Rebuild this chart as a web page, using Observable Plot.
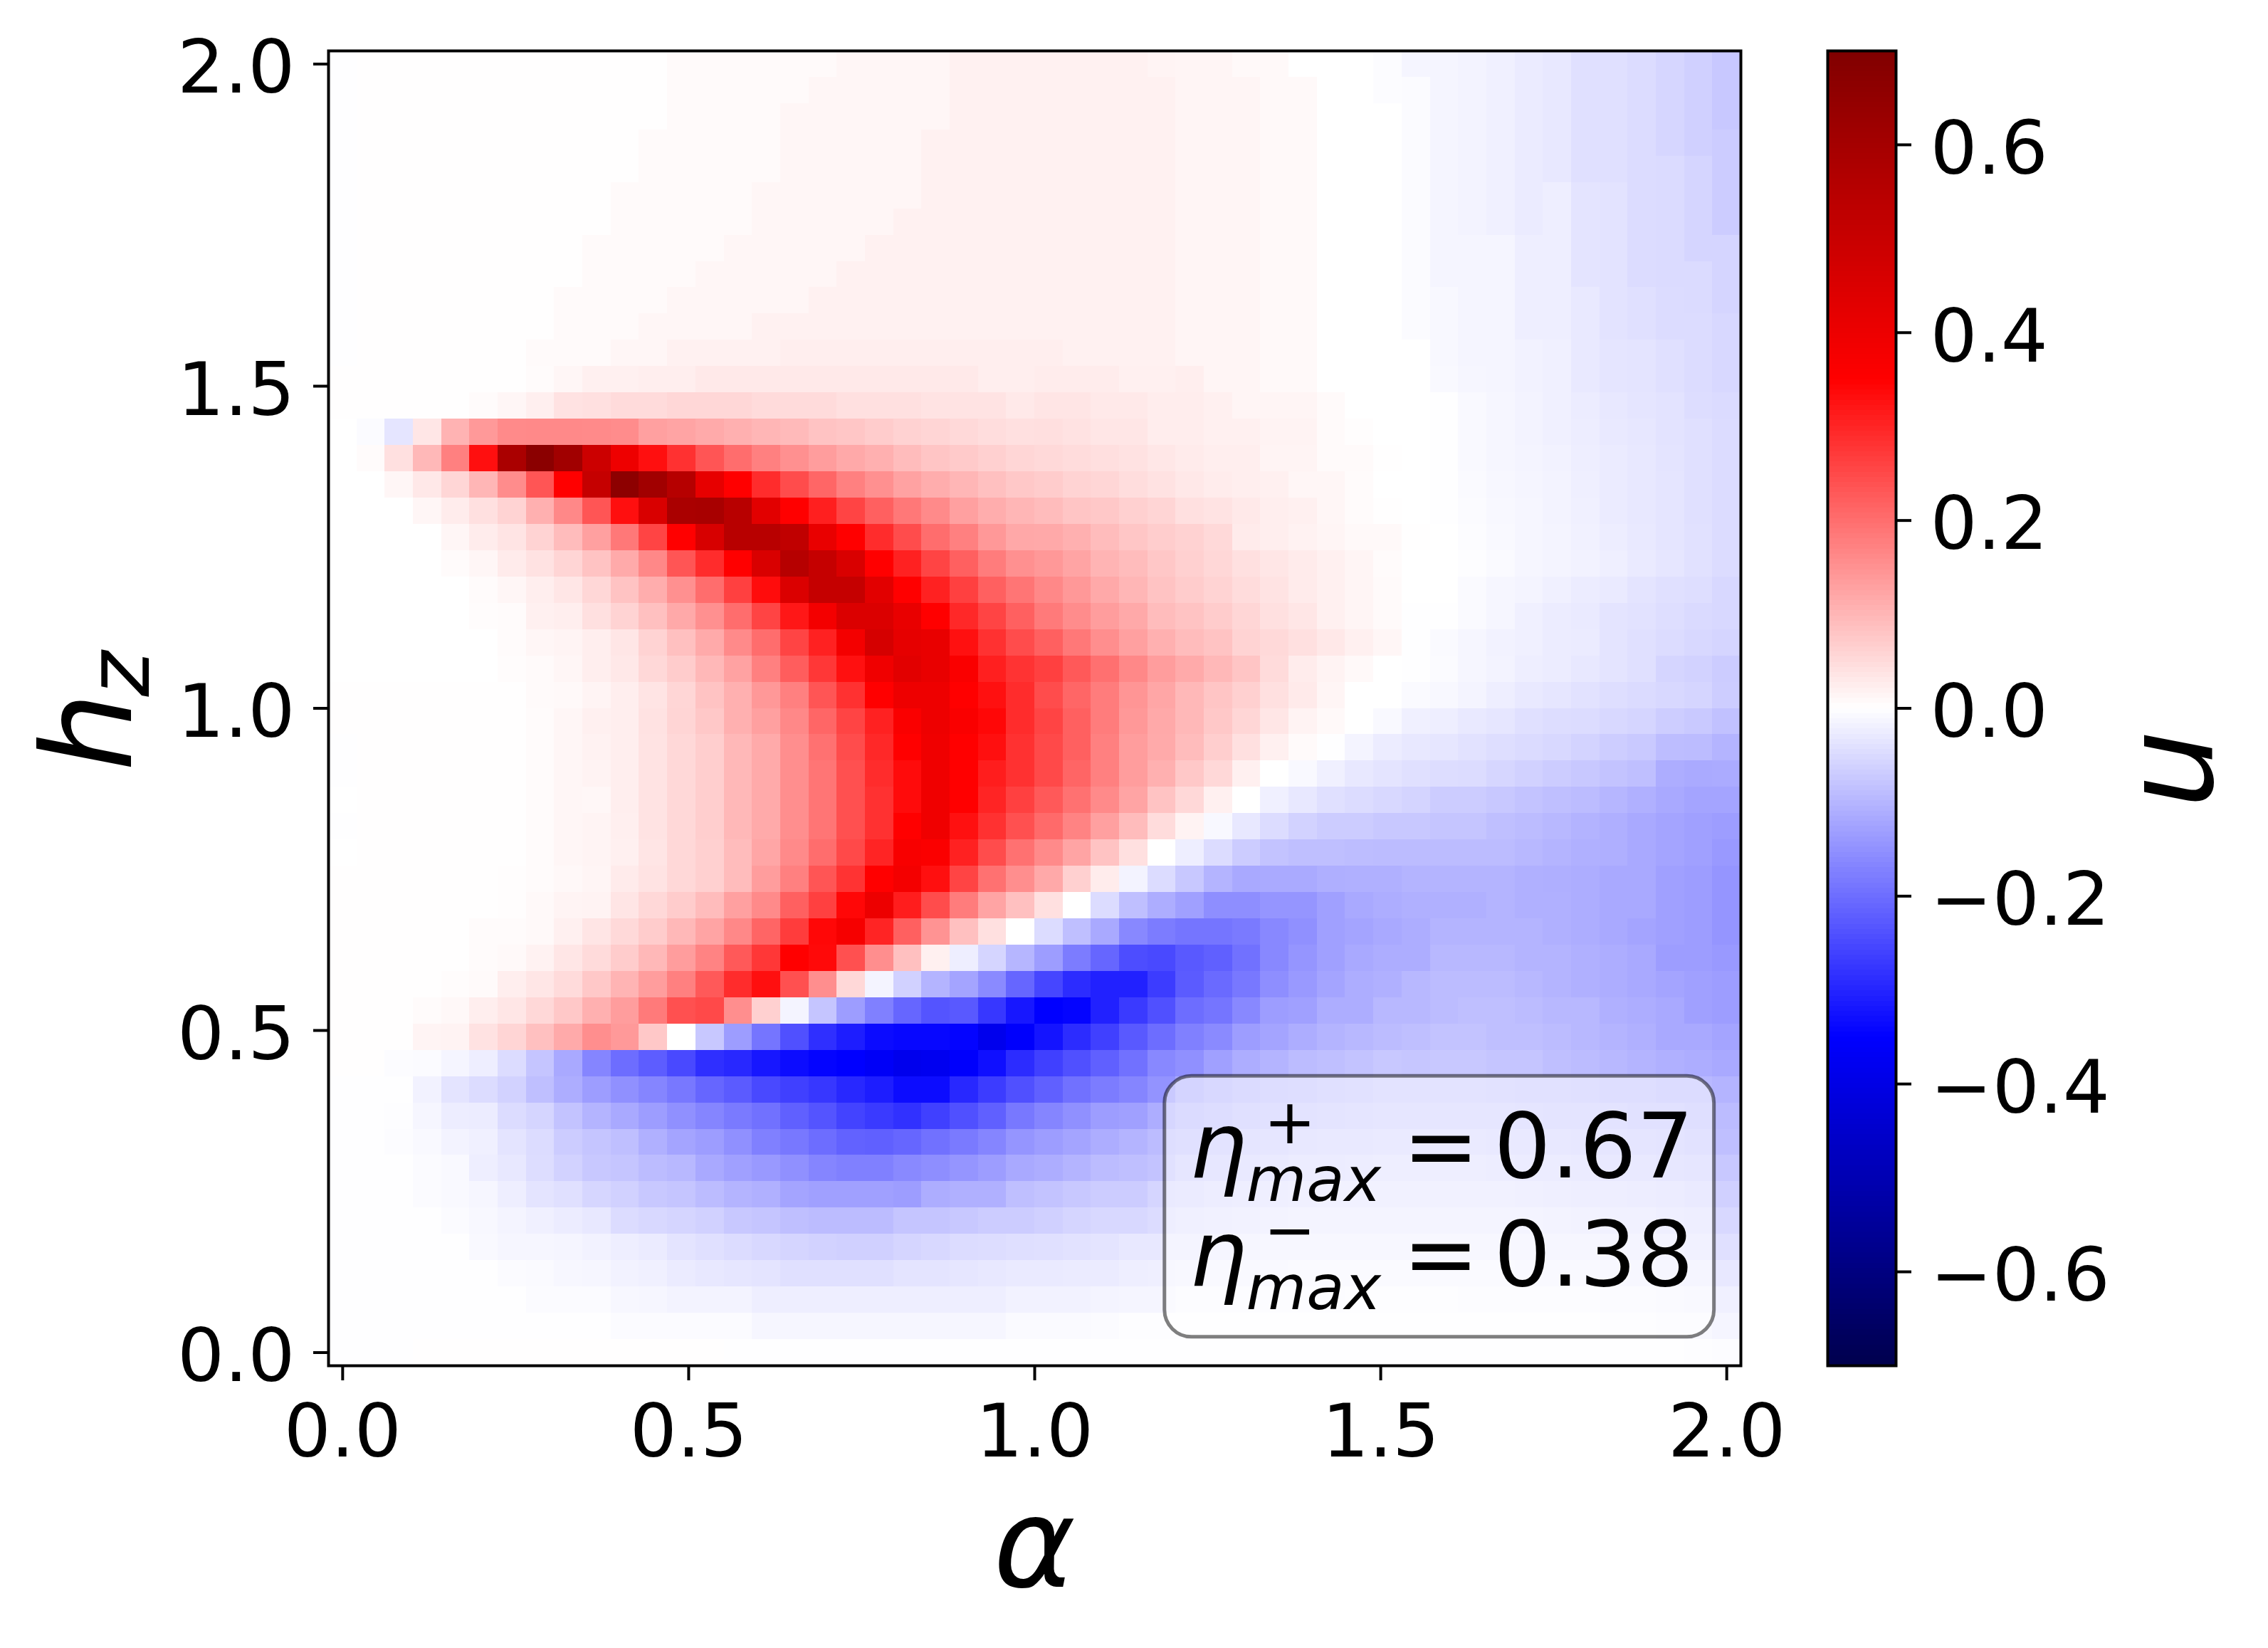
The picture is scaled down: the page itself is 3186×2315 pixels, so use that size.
<!DOCTYPE html>
<html>
<head>
<meta charset="utf-8">
<script src="https://cdn.jsdelivr.net/npm/d3@7"></script>
<script src="https://cdn.jsdelivr.net/npm/@observablehq/plot@0.6"></script>
<style>
  html, body { margin: 0; background: #fff; }
  #chart { position: relative; width: 3186px; height: 2315px; color: #000; }
  #chart svg { position: absolute; top: 0; background: transparent; }
</style>
</head>
<body>
<div id="chart"></div>
<script>
const FONT = "DejaVu Sans";

// u, in thousandths, top row (hz = 2) first, alpha left to right
const uRows = [
[-1,2,2,2,2,2,2,2,2,2, 2,2,7,7,7,7,7,7,12,12, 12,12,19,19,19,19,19,19,19,15, 14,14,8,8,0,0,0,-4,-14,-14, -17,-20,-28,-31,-43,-43,-48,-56,-65,-75],
[-1,2,2,2,2,2,2,2,2,2, 2,2,7,7,7,7,7,12,12,12, 12,12,19,19,19,19,19,19,19,19, 14,14,14,8,8,0,0,-4,-6,-14, -17,-20,-28,-31,-43,-43,-48,-56,-65,-75],
[-1,2,2,2,2,2,2,2,2,2, 2,2,7,7,7,7,12,12,12,12, 12,12,19,19,19,19,19,19,19,19, 14,14,14,8,8,0,0,0,-6,-14, -17,-20,-28,-31,-43,-43,-48,-56,-65,-75],
[-1,2,2,2,2,2,2,2,2,2, 2,7,7,7,7,7,12,12,12,12, 12,19,19,19,19,19,19,19,19,19, 14,14,14,8,8,0,0,0,-6,-14, -17,-20,-28,-31,-43,-43,-48,-56,-65,-70],
[-1,2,2,2,2,2,2,2,2,2, 2,7,7,7,7,7,12,12,12,12, 12,19,19,19,19,19,19,19,19,19, 14,14,14,8,8,0,0,0,-6,-14, -17,-20,-28,-31,-43,-43,-48,-50,-57,-70],
[-1,2,2,2,2,2,2,2,2,2, 7,7,7,7,7,12,12,12,12,12, 12,19,19,19,19,19,19,19,19,19, 14,14,14,8,8,0,0,0,-6,-14, -17,-20,-28,-23,-37,-38,-48,-50,-57,-70],
[-1,2,2,2,2,2,2,2,2,2, 7,7,7,7,7,12,12,12,12,12, 19,19,19,19,19,19,19,19,19,19, 14,14,14,8,8,0,0,0,-6,-14, -17,-20,-28,-23,-37,-38,-48,-50,-57,-70],
[-1,2,2,2,2,2,2,2,2,7, 7,7,7,7,12,12,12,12,12,19, 19,19,19,19,19,19,19,19,19,19, 14,14,14,8,8,0,0,0,-6,-14, -14,-14,-23,-23,-37,-38,-48,-50,-57,-57],
[-1,2,2,2,2,2,2,2,2,7, 7,7,7,12,12,12,12,12,19,19, 19,19,19,19,19,19,19,19,19,19, 14,14,14,8,8,0,0,0,-6,-14, -14,-14,-23,-23,-37,-38,-48,-50,-50,-57],
[-1,2,2,2,2,2,2,2,7,7, 7,7,12,12,12,12,12,19,19,19, 19,19,19,19,19,19,19,19,19,19, 14,14,14,8,8,0,0,0,-6,-10, -14,-14,-23,-23,-30,-38,-43,-48,-50,-57],
[-1,2,2,2,2,2,2,2,7,7, 7,12,12,12,12,19,19,19,19,19, 19,19,19,19,19,19,19,19,19,19, 14,14,14,8,8,0,0,0,-6,-10, -14,-14,-23,-23,-30,-38,-43,-48,-48,-53],
[-1,2,2,2,2,2,2,7,7,7, 12,12,19,19,19,19,24,24,24,24, 24,24,24,24,24,24,19,19,19,19, 14,14,14,8,8,0,0,0,0,-10, -14,-14,-18,-20,-30,-35,-37,-43,-48,-53],
[1,1,1,1,1,1,1,6,12,20, 20,24,24,30,30,30,30,30,30,30, 30,30,30,24,24,26,26,26,20,20, 24,14,14,8,8,0,0,0,0,-8, -13,-14,-18,-20,-30,-35,-37,-43,-48,-53],
[1,1,1,1,1,5,12,22,40,42, 50,50,55,55,55,50,50,50,43,43, 43,38,38,38,30,36,36,30,30,25, 25,20,14,14,14,7,0,0,0,-2, -8,-13,-16,-20,-26,-32,-35,-39,-46,-50],
[0,-6,-36,35,105,140,160,162,162,160, 158,130,125,117,108,100,95,83,78,70, 62,58,52,47,43,44,40,34,34,25, 25,20,20,16,16,7,3,0,0,-2, -8,-13,-16,-20,-25,-30,-33,-38,-43,-48],
[0,5,43,97,174,330,583,670,610,490, 397,330,283,233,200,175,152,135,118,108, 92,80,73,65,56,52,48,44,40,33, 27,24,24,15,15,7,7,1,0,-2, -8,-12,-15,-18,-24,-28,-32,-37,-43,-48],
[0,0,13,32,56,100,158,233,350,510, 665,610,550,415,350,290,245,210,175,152, 128,112,100,87,75,70,60,56,46,40, 32,26,24,20,13,12,6,0,0,-1, -7,-11,-14,-17,-22,-27,-32,-35,-43,-48],
[0,0,0,13,26,43,60,108,163,233, 330,455,583,590,545,430,350,307,256,218, 185,160,130,112,100,92,80,75,65,58, 43,38,30,24,20,13,6,1,0,-1, -6,-10,-13,-16,-21,-27,-32,-35,-43,-48],
[0,0,0,0,13,26,37,60,92,130, 185,256,350,460,545,545,525,410,350,290, 245,200,175,142,120,118,108,92,78,68, 62,52,28,24,18,14,8,8,1,0, -4,-8,-12,-15,-19,-25,-30,-35,-41,-48],
[0,0,0,0,5,13,27,40,58,82, 117,163,233,290,350,455,550,510,455,350, 305,256,218,180,152,142,125,103,92,77, 65,55,43,34,28,20,14,6,0,0, -3,-7,-12,-15,-18,-22,-29,-34,-41,-48],
[0,0,0,0,0,5,12,23,35,55, 82,112,152,200,262,333,450,510,510,430, 350,305,262,218,190,163,142,118,100,82, 70,60,48,38,28,20,14,7,0,0, -7,-12,-15,-21,-26,-29,-37,-43,-45,-53],
[0,0,0,0,0,4,6,20,24,42, 60,87,118,152,200,256,318,380,450,450, 410,350,295,256,218,182,158,135,118,92, 82,70,56,43,34,20,14,7,-1,-1, -7,-12,-21,-26,-29,-37,-40,-45,-51,-53],
[0,0,0,0,0,0,5,12,15,24, 35,60,87,117,160,200,256,305,380,465, 420,410,328,283,245,218,185,155,130,108, 92,82,60,52,43,32,20,12,-1,-7, -12,-18,-21,-26,-27,-37,-43,-48,-53,-58],
[0,0,0,0,0,0,4,7,12,24, 32,53,70,97,128,175,222,275,328,390, 430,410,365,308,280,262,228,196,163,135, 117,97,80,50,26,17,8,0,-2,-6, -12,-16,-24,-26,-32,-37,-43,-58,-62,-70],
[1,1,1,1,1,1,1,7,8,15, 24,37,56,82,108,142,175,233,283,350, 397,397,350,328,290,245,210,180,145,122, 97,80,65,43,29,14,0,0,-7,-9, -15,-24,-30,-34,-40,-45,-50,-53,-58,-68],
[1,1,1,1,1,1,1,6,13,20, 24,40,58,76,108,130,163,210,256,305, 365,397,365,340,290,256,218,180,142,118, 97,75,56,35,17,8,0,-8,-21,-23, -30,-34,-43,-46,-48,-53,-58,-68,-74,-85],
[-1,1,1,1,1,1,1,6,12,18, 24,38,54,67,97,117,155,195,245,295, 350,390,350,330,283,250,218,175,135,117, 92,67,43,20,7,-1,-15,-26,-32,-34, -40,-45,-50,-54,-60,-68,-74,-90,-92,-103],
[-1,1,1,1,1,1,1,6,12,16, 24,38,54,67,97,117,155,190,240,290, 335,390,350,310,283,250,212,175,135,108, 75,54,21,0,-8,-20,-32,-37,-43,-46, -48,-56,-63,-70,-75,-82,-88,-112,-117,-115],
[0,1,1,1,1,1,1,6,12,11, 24,38,54,67,97,117,155,190,240,283, 335,390,350,300,262,228,195,160,125,82, 54,21,0,-20,-32,-43,-48,-53,-59,-70, -70,-75,-82,-88,-92,-100,-108,-118,-125,-125],
[-1,1,1,1,1,1,1,6,12,15, 22,38,54,67,97,117,155,190,240,283, 350,390,328,283,240,205,170,130,92,48, 16,-9,-32,-48,-62,-70,-70,-75,-75,-80, -80,-88,-92,-98,-105,-110,-118,-125,-130,-135],
[0,1,1,1,1,1,1,6,12,15, 20,36,54,65,92,122,160,200,250,300, 370,360,305,245,195,160,125,82,43,0, -23,-48,-70,-82,-88,-88,-90,-92,-92,-92, -92,-92,-98,-103,-108,-110,-118,-125,-130,-140],
[1,1,1,1,1,1,3,5,10,14, 27,38,54,65,92,135,175,233,280,350, 380,330,256,195,155,118,65,26,-16,-48, -75,-103,-118,-116,-116,-110,-108,-108,-103,-103, -103,-103,-108,-110,-113,-118,-118,-130,-135,-145],
[1,1,1,1,1,1,3,8,15,17, 36,54,70,92,130,160,218,262,340,400, 310,245,180,125,87,42,0,-48,-88,-113, -130,-155,-155,-145,-145,-130,-118,-113,-108,-108, -108,-103,-108,-108,-113,-118,-118,-130,-135,-145],
[1,1,1,1,1,5,6,8,20,36, 52,70,97,125,163,212,268,340,375,300, 218,148,87,42,0,-48,-88,-118,-163,-180, -190,-190,-182,-163,-152,-130,-125,-118,-113,-103, -103,-103,-103,-108,-113,-118,-125,-130,-135,-145],
[1,1,1,1,1,5,8,18,34,50, 70,97,135,170,228,275,350,337,240,155, 87,20,-23,-58,-100,-135,-180,-210,-245,-250, -228,-218,-195,-163,-145,-130,-118,-113,-113,-98, -98,-98,-103,-103,-108,-113,-118,-135,-135,-140],
[1,1,1,1,4,7,24,34,50,75, 103,135,175,228,290,330,240,155,54,-15, -63,-103,-125,-160,-210,-254,-290,-305,-305,-268, -225,-205,-185,-155,-140,-125,-113,-108,-98,-92, -92,-92,-97,-103,-108,-113,-118,-125,-130,-135],
[1,1,1,6,9,24,34,54,75,108, 135,182,240,250,155,65,-15,-80,-135,-175, -210,-235,-228,-275,-318,-350,-345,-305,-270,-240, -200,-190,-163,-135,-130,-113,-113,-98,-98,-92, -88,-88,-92,-98,-98,-108,-113,-118,-130,-135],
[1,1,1,15,16,40,58,87,117,155, 140,75,0,-75,-135,-190,-240,-285,-310,-335, -340,-340,-345,-385,-355,-322,-290,-262,-228,-200, -175,-160,-135,-125,-113,-103,-97,-92,-88,-82, -82,-88,-88,-92,-97,-103,-108,-118,-118,-125],
[1,1,-4,-6,-14,-23,-48,-80,-118,-168, -200,-222,-250,-285,-295,-318,-333,-345,-350,-365, -385,-380,-355,-330,-290,-262,-240,-218,-195,-163, -152,-130,-113,-103,-92,-88,-82,-75,-78,-75, -75,-80,-80,-88,-92,-98,-103,-108,-113,-118],
[-1,-1,-2,-18,-37,-48,-62,-88,-113,-135, -152,-168,-185,-210,-225,-250,-262,-275,-295,-310, -333,-333,-295,-268,-240,-218,-195,-180,-168,-148, -120,-108,-100,-95,-90,-85,-82,-78,-78,-78, -78,-80,-82,-84,-86,-90,-92,-96,-98,-103],
[-1,-1,-3,-12,-25,-26,-48,-58,-82,-103, -118,-135,-152,-168,-182,-195,-218,-235,-258,-270, -283,-262,-240,-218,-185,-168,-152,-135,-130,-113, -100,-93,-87,-82,-78,-74,-72,-70,-68,-68, -68,-70,-72,-74,-76,-78,-82,-84,-88,-92],
[-1,-1,-4,-8,-16,-20,-37,-48,-70,-80, -88,-108,-125,-135,-152,-175,-185,-200,-215,-218, -210,-195,-182,-168,-145,-135,-125,-113,-103,-92, -85,-78,-72,-68,-64,-62,-60,-58,-58,-58, -58,-60,-62,-64,-66,-70,-72,-76,-80,-88],
[-1,-1,-1,-5,-8,-23,-32,-46,-62,-75, -80,-92,-98,-118,-130,-140,-152,-168,-175,-175, -162,-155,-145,-135,-118,-113,-103,-92,-88,-82, -70,-66,-62,-57,-54,-52,-50,-48,-47,-47, -48,-50,-52,-54,-56,-60,-62,-66,-70,-75],
[-1,-1,-1,-5,-8,-12,-23,-37,-43,-56, -63,-75,-80,-92,-103,-108,-125,-130,-130,-130, -135,-113,-108,-108,-88,-82,-75,-70,-70,-58, -55,-50,-47,-44,-42,-40,-39,-38,-38,-38, -38,-40,-42,-44,-46,-48,-50,-54,-58,-64],
[-1,-1,-1,-1,-6,-10,-15,-21,-26,-32, -48,-53,-58,-63,-75,-80,-88,-92,-92,-92, -80,-80,-75,-70,-70,-65,-58,-53,-53,-48, -41,-38,-36,-34,-32,-31,-30,-30,-30,-30, -30,-31,-32,-33,-35,-38,-40,-44,-48,-53],
[-1,-1,-1,-1,-1,-8,-12,-13,-14,-18, -23,-27,-37,-43,-48,-53,-58,-62,-65,-65, -58,-53,-48,-46,-44,-43,-40,-37,-32,-32, -30,-28,-26,-24,-23,-22,-22,-22,-22,-22, -22,-23,-24,-25,-26,-28,-30,-34,-38,-43],
[-1,-1,-1,-1,-1,-1,-6,-7,-11,-13, -18,-20,-27,-32,-34,-37,-43,-43,-43,-43, -37,-37,-34,-32,-29,-29,-28,-27,-24,-22, -20,-18,-17,-16,-15,-15,-14,-14,-14,-14, -14,-15,-16,-17,-18,-20,-22,-25,-28,-32],
[-1,-1,-1,-1,-1,-1,-1,-5,-6,-6, -11,-12,-17,-17,-17,-23,-23,-23,-23,-23, -23,-23,-23,-23,-18,-18,-18,-15,-14,-14, -8,-8,-8,-8,-8,-8,-7,-7,-7,-7, -8,-8,-8,-9,-10,-12,-13,-15,-18,-21],
[-1,-1,-1,-1,-1,-1,-1,-1,-1,-1, -6,-6,-6,-6,-6,-12,-12,-12,-12,-12, -12,-12,-12,-12,-7,-7,-7,-5,-3,-3, -3,-3,-3,-3,-3,-3,-3,-3,-3,-3, -3,-3,-3,-3,-4,-5,-6,-8,-10,-14],
[-1,-1,-1,1,1,1,1,1,1,1, 1,1,1,1,-1,-1,-1,-1,-1,-1, -1,-1,-1,-1,-1,-1,-1,-1,-1,-1, -1,-1,-1,-1,-1,-1,-1,-1,-1,-1, -1,-1,-1,-1,-1,-1,-1,-2,-3,-4]
];

const axisTicks = [0, 0.5, 1, 1.5, 2];
const colorbarTicks = [-0.6, -0.4, -0.2, 0, 0.2, 0.4, 0.6];
const seismicStops = [-0.7, -0.35, 0, 0.35, 0.7];
const seismicColors = ["#00004d", "#0000ff", "#ffffff", "#ff0000", "#800000"];
const etaValues = ["0.67", "0.38"];

const step = 2 / 49; // 50 x 50 grid on [0, 2]
const cells = uRows.flatMap((row, i) => row.map((v, j) => ({
  x1: (j - 0.5) * step,
  x2: (j + 0.5) * step,
  y1: (49 - i - 0.5) * step,
  y2: (49 - i + 0.5) * step,
  u: v / 1000
})));

const colorScale = {type: "linear", domain: seismicStops, range: seismicColors, interpolate: "rgb", clamp: true};

// frame of the heatmap, page pixels
const L = 461, R = 2445, T = 71, B = 1918;
// frame of the colorbar
const CL = 2567, CR = 2663, CW = 2520;

function textAt(str, px, py, size, opts = {}, originX = L) {
  return Plot.text([str], {
    frameAnchor: "top-left",
    dx: px - originX,
    dy: py - T,
    fontSize: size,
    fontFamily: FONT,
    textAnchor: "start",
    lineAnchor: "bottom",
    fill: "#000",
    ...opts
  });
}

const italic = {fontStyle: "italic"};
const up = {fontStyle: "italic", rotate: -90};
const blank = () => "";

const main = Plot.plot({
  width: CW,
  height: 2315,
  marginLeft: L,
  marginRight: CW - R,
  marginTop: T,
  marginBottom: 2315 - B,
  style: {fontFamily: FONT, fontSize: "104px", color: "#000", background: "transparent"},
  x: {domain: [-step / 2, 2 + step / 2], label: null},
  y: {domain: [-step / 2, 2 + step / 2], label: null},
  color: colorScale,
  marks: [
    Plot.rect(cells, {x1: "x1", x2: "x2", y1: "y1", y2: "y2", fill: "u", shapeRendering: "crispEdges"}),
    Plot.frame({stroke: "#000", strokeWidth: 4}),
    Plot.axisX(axisTicks, {tickSize: 21, tickPadding: 33, strokeWidth: 4, tickFormat: ".1f", fontSize: 104, label: null}),
    Plot.axisY(axisTicks, {tickSize: 21, strokeWidth: 4, tickFormat: blank, label: null}),
    Plot.axisY(axisTicks, {tickSize: 0, tickPadding: 47, dy: 7, tickFormat: ".1f", fontSize: 104, label: null}),
    // annotation box
    Plot.rect([{x1: 1.188, x2: 1.982, y1: 0.024, y2: 0.429}], {
      x1: "x1", x2: "x2", y1: "y1", y2: "y2",
      fill: "#fff", fillOpacity: 0.5, stroke: "#000", strokeOpacity: 0.5, strokeWidth: 5, rx: 38
    }),
    textAt("η", 1670, 1653, 128, italic),
    textAt("max", 1750, 1686, 87, italic),
    textAt("+", 1775, 1605, 87),
    textAt("=", 1970, 1653, 128),
    textAt(etaValues[0], 2098, 1653, 126),
    textAt("η", 1670, 1805, 128, italic),
    textAt("max", 1750, 1838, 87, italic),
    textAt("−", 1775, 1757, 87),
    textAt("=", 1970, 1805, 128),
    textAt(etaValues[1], 2098, 1805, 126),
    // axis labels
    textAt("α", 1395, 2228, 175, italic),
    textAt("h", 183, 1083, 175, up),
    textAt("z", 208, 978, 122, up)
  ]
});

// colorbar, drawn through the same colour scale
const barValues = d3.range(256).map(i => -0.7 + i * 1.4 / 256);
const barHeight = 1.4 / 256;

const bar = Plot.plot({
  width: 3186 - CW,
  height: 2315,
  marginLeft: CL - CW,
  marginRight: 3186 - CR,
  marginTop: T,
  marginBottom: 2315 - B,
  style: {fontFamily: FONT, fontSize: "104px", color: "#000", background: "transparent"},
  x: {domain: [0, 1], axis: null},
  y: {domain: [-0.7, 0.7], label: null},
  color: colorScale,
  marks: [
    Plot.rect(barValues, {x1: 0, x2: 1, y1: d => d, y2: d => d + barHeight, fill: d => d + barHeight / 2, shapeRendering: "crispEdges"}),
    Plot.frame({stroke: "#000", strokeWidth: 4}),
    Plot.axisY(colorbarTicks, {anchor: "right", tickSize: 21, strokeWidth: 4, tickFormat: blank, label: null}),
    Plot.axisY(colorbarTicks, {anchor: "right", tickSize: 0, tickPadding: 48, dy: 7, tickFormat: ".1f", fontSize: 104, label: null}),
    textAt("u", 3107, 1135, 175, up, CL)
  ]
});
bar.style.left = CW + "px";
main.style.left = "0px";

document.getElementById("chart").append(main, bar);
</script>
</body>
</html>
